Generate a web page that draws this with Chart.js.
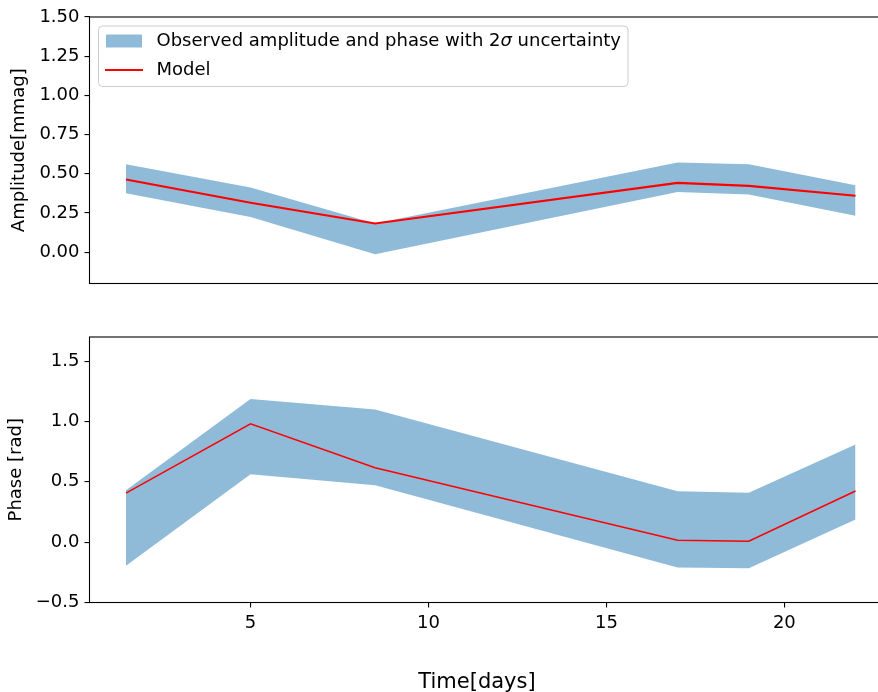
<!DOCTYPE html>
<html>
<head>
<meta charset="utf-8">
<script src="https://cdn.jsdelivr.net/npm/chart.js@4.4.0/dist/chart.umd.min.js"></script>
<style>
html, body { margin: 0; padding: 0; background: #fff; overflow: hidden; }
#wrap { position: relative; width: 878px; height: 692px; overflow: hidden; }
#ampChart { position: absolute; left: 0; top: 0; }
#phaseChart { position: absolute; left: 0; top: 300px; }
</style>
</head>
<body>
<div id="wrap">
	<canvas id="ampChart" width="900" height="300"></canvas>
	<canvas id="phaseChart" width="900" height="392"></canvas>
</div>
<script>
// observation times
const days = [1.5, 5, 8.5, 17, 19, 22];
// amplitude panel
const ampUpper = [0.56, 0.413, 0.183, 0.572, 0.56, 0.426];
const ampLower = [0.375, 0.225, -0.013, 0.383, 0.368, 0.232];
const ampModel = [0.464, 0.315, 0.183, 0.442, 0.423, 0.36];
// phase panel
const phaseUpper = [0.43, 1.187, 1.099, 0.421, 0.41, 0.81];
const phaseLower = [-0.196, 0.562, 0.471, -0.209, -0.217, 0.188];
const phaseModel = [0.407, 0.98, 0.617, 0.0165, 0.008, 0.424];
// ticks
const ampTicks = [0, 0.25, 0.5, 0.75, 1.0, 1.25, 1.5];
const phaseTicks = [-0.5, 0, 0.5, 1.0, 1.5];
const dayTicks = [5, 10, 15, 20];

const bandColor = 'rgba(31,119,180,0.5)';
const FONT = 'DejaVu Sans';
const FS = 18;

function pts(ys){
	var out = [];
	for(var i=0;i<days.length;i++){
		out.push({x: days[i], y: ys[i]});
	}
	return out;
}

function bandSets(upper, lower, model, lineW){
	return [
		{data: pts(upper), borderWidth: 0, pointRadius: 0, backgroundColor: bandColor, fill: '+1', tension: 0, order: 2},
		{data: pts(lower), borderWidth: 0, pointRadius: 0, backgroundColor: bandColor, fill: false, tension: 0, order: 2},
		{data: pts(model), borderColor: '#ff0000', borderWidth: lineW, pointRadius: 0, fill: false, tension: 0, order: 0}
	];
}

function yScale(min, max, tickVals, digits, title, titlePad){
	return {
		type: 'linear',
		min: min, max: max,
		afterBuildTicks: function(s){ s.ticks = tickVals.map(function(v){ return {value: v}; }); },
		afterFit: function(s){ s.width = 89.5; },
		ticks: {
			color: '#000', padding: 5,
			font: {family: FONT, size: FS},
			callback: function(v){ return Number(v).toFixed(digits).replace('-', '\u2212'); }
		},
		grid: {drawOnChartArea: false, drawTicks: true, tickLength: 5, color: '#000', lineWidth: 1.1},
		border: {display: false},
		title: {display: true, text: title, color: '#000', font: {family: FONT, size: FS}, padding: {top: titlePad, bottom: 0}}
	};
}

const framePlugin = {
	id: 'frame',
	afterDatasetsDraw(chart){
		var ctx = chart.ctx, a = chart.chartArea;
		ctx.save();
		ctx.strokeStyle = '#000';
		ctx.lineWidth = 1.1;
		ctx.strokeRect(a.left, a.top, a.right - a.left, a.bottom - a.top);
		ctx.restore();
	}
};

const legendPlugin = {
	id: 'boxLegend',
	afterDraw(chart){
		var ctx = chart.ctx, a = chart.chartArea;
		var x0 = a.left + 9, y0 = a.top + 9, w = 529.5, h = 60.5, r = 4;
		ctx.save();
		ctx.beginPath();
		ctx.moveTo(x0 + r, y0);
		ctx.arcTo(x0 + w, y0, x0 + w, y0 + h, r);
		ctx.arcTo(x0 + w, y0 + h, x0, y0 + h, r);
		ctx.arcTo(x0, y0 + h, x0, y0, r);
		ctx.arcTo(x0, y0, x0 + w, y0, r);
		ctx.closePath();
		ctx.fillStyle = 'rgba(255,255,255,0.8)';
		ctx.fill();
		ctx.strokeStyle = '#cccccc';
		ctx.lineWidth = 1;
		ctx.stroke();

		ctx.fillStyle = bandColor;
		ctx.fillRect(x0 + 7.5, y0 + 8.5, 36, 13);
		ctx.strokeStyle = '#ff0000';
		ctx.lineWidth = 2.1;
		ctx.beginPath();
		ctx.moveTo(x0 + 6.5, y0 + 44);
		ctx.lineTo(x0 + 44.5, y0 + 44);
		ctx.stroke();

		ctx.fillStyle = '#000';
		ctx.textBaseline = 'middle';
		var tx = x0 + 58, ty = y0 + 15.5;
		var parts = [['Observed amplitude and phase with 2', ''], ['\u03c3', 'italic '], [' uncertainty', '']];
		for(var i=0;i<parts.length;i++){
			ctx.font = parts[i][1] + FS + 'px ' + FONT;
			ctx.fillText(parts[i][0], tx, ty);
			tx += ctx.measureText(parts[i][0]).width;
		}
		ctx.font = FS + 'px ' + FONT;
		ctx.fillText('Model', x0 + 58, y0 + 44);
		ctx.restore();
	}
};

const xTitlePlugin = {
	id: 'xTitle',
	afterDraw(chart){
		var ctx = chart.ctx;
		ctx.save();
		ctx.fillStyle = '#000';
		ctx.font = '21px ' + FONT;
		ctx.textAlign = 'center';
		ctx.textBaseline = 'alphabetic';
		ctx.fillText('Time[days]', 477, 387.5);
		ctx.restore();
	}
};

new Chart(document.getElementById('ampChart'), {
	type: 'line',
	data: {datasets: bandSets(ampUpper, ampLower, ampModel, 2.1)},
	options: {
		responsive: false, animation: false, devicePixelRatio: 1,
		layout: {padding: {top: 17, right: 8, bottom: 16.5, left: 0}},
		plugins: {legend: {display: false}, tooltip: {enabled: false}},
		scales: {
			x: {type: 'linear', min: 0.475, max: 23.025, display: false},
			y: yScale(-0.2, 1.5, ampTicks, 2, 'Amplitude[mmag]', 8.5)
		}
	},
	plugins: [framePlugin, legendPlugin]
});

new Chart(document.getElementById('phaseChart'), {
	type: 'line',
	data: {datasets: bandSets(phaseUpper, phaseLower, phaseModel, 1.5)},
	options: {
		responsive: false, animation: false, devicePixelRatio: 1,
		layout: {padding: {top: 37, right: 8, bottom: 0, left: 0}},
		plugins: {legend: {display: false}, tooltip: {enabled: false}},
		scales: {
			x: {
				type: 'linear', min: 0.475, max: 23.025,
				afterBuildTicks: function(s){ s.ticks = dayTicks.map(function(v){ return {value: v}; }); },
				afterFit: function(s){ s.height = 89.5; },
				ticks: {color: '#000', padding: 5, font: {family: FONT, size: FS}, maxRotation: 0},
				grid: {drawOnChartArea: false, drawTicks: true, tickLength: 5, color: '#000', lineWidth: 1.1},
				border: {display: false}
			},
			y: yScale(-0.5, 1.7, phaseTicks, 1, 'Phase [rad]', 5.5)
		}
	},
	plugins: [framePlugin, xTitlePlugin]
});
</script>
</body>
</html>
